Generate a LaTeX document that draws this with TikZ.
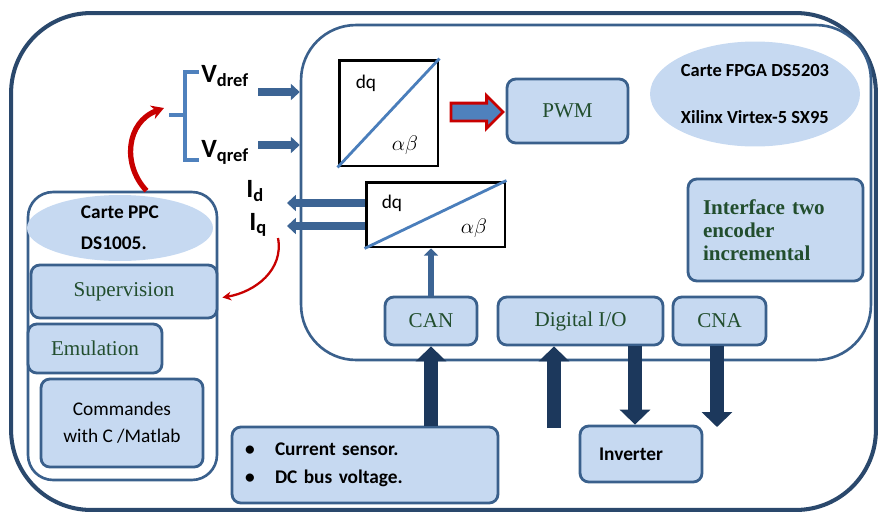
\documentclass[tikz,border=0pt]{standalone}
\usepackage{fontspec}
\setmainfont{Liberation Serif}
\setsansfont{Carlito}
\usepackage{tikz}
\usetikzlibrary{arrows.meta,shapes.geometric,shapes.arrows,positioning,calc}

\definecolor{boxfill}{RGB}{198,217,241}
\definecolor{boxline}{RGB}{58,96,140}
\definecolor{framecol}{RGB}{42,72,108}
\definecolor{navyarrow}{RGB}{28,56,92}
\definecolor{midarrow}{RGB}{60,100,148}
\definecolor{diagblue}{RGB}{74,126,187}
\definecolor{arrowblue}{RGB}{79,129,189}
\definecolor{txtgreen}{RGB}{34,78,46}
\definecolor{redline}{RGB}{200,0,0}

\begin{document}
\begin{tikzpicture}[x=0.02cm,y=-0.02cm,
	board/.style={draw=boxline,line width=1.5pt,inner sep=0pt},
	blk/.style={draw=boxline,fill=boxfill,line width=1.6pt,rounded corners=5pt,inner sep=0pt},
	tbox/.style={blk,text=txtgreen,font=\fontsize{12}{14}\selectfont},
	sbox/.style={blk,font=\sffamily\fontsize{11}{13}\selectfont},
	oval/.style={ellipse,fill=boxfill,inner sep=0pt,align=left,font=\sffamily\bfseries\fontsize{11}{13}\selectfont},
	dqbox/.style={draw=black,line width=1.7pt,inner sep=0pt},
	dqtxt/.style={font=\sffamily\fontsize{11}{13}\selectfont,inner sep=0pt},
	diag/.style={draw=diagblue,line width=1.6pt},
	lbl/.style={font=\sffamily\bfseries\fontsize{15}{18}\selectfont,inner sep=0pt},
	sigarrow/.style={draw=midarrow,line width=4pt,-{Triangle[length=5pt,width=9pt]}},
	canline/.style={draw=midarrow,line width=3pt,-{Triangle[length=4pt,width=8pt]}},
	bus/.style={draw=navyarrow,line width=8.5pt,-{Triangle[length=8.5pt,width=17pt]}},
	bracket/.style={draw=arrowblue,line width=2pt},
	redarrow/.style={draw=redline}
]
	\useasboundingbox (0,0) rectangle (878,514);

	% frames
	\node[board,draw=framecol,line width=2.3pt,rounded corners=1.6cm,minimum width=17.3cm,minimum height=9.94cm] (outer) at (443.5,261.5) {};
	\node[board,rounded corners=1.1cm,minimum width=11.4cm,minimum height=6.7cm] (fpga) at (586,192.5) {};
	\node[board,rounded corners=0.5cm,minimum width=3.78cm,minimum height=5.76cm] (ppc) at (122.5,336) {};

	% cards
	\node[oval,minimum width=3.72cm,minimum height=1.32cm] (ppcname) at (120,228) {Carte PPC\\[4.5pt]DS1005.};
	\node[oval,font=\sffamily\bfseries\fontsize{10.5}{12}\selectfont,minimum width=4.2cm,minimum height=2.1cm] (fpganame) at (755,94) {Carte FPGA DS5203\\[15pt]Xilinx Virtex-5 SX95};

	% dq / alpha beta
	\node[dqbox,minimum width=1.98cm,minimum height=2.12cm] (dq1) at (388.5,113) {};
	\draw[diag] (dq1.south west) -- (dq1.north east);
	\node[dqtxt] (dq1a) at (366,83) {dq};
	\node[dqtxt,font=\fontsize{13}{15}\selectfont] (dq1b) at (405,145) {$\alpha\beta$};
	\node[dqbox,minimum width=2.78cm,minimum height=1.3cm] (dq2) at (435.5,214.5) {};
	\draw[diag] (dq2.south west) -- (dq2.north east);
	\node[dqtxt] (dq2a) at (392,203) {dq};
	\node[dqtxt,font=\fontsize{13}{15}\selectfont] (dq2b) at (474,228) {$\alpha\beta$};

	% blocks
	\node[tbox,minimum width=2.42cm,minimum height=1.28cm] (pwm) at (567.5,111) {PWM};
	\node[tbox,font=\bfseries\fontsize{12}{13}\selectfont,align=left,text width=2.9cm,minimum width=3.5cm,minimum height=2.04cm] (enc) at (775.5,230) {Interface two\\encoder\\incremental};
	\node[tbox,minimum width=1.84cm,minimum height=0.96cm] (can) at (431,321) {CAN};
	\node[tbox,minimum width=3.3cm,minimum height=0.96cm] (dio) at (580.5,321) {Digital I/O};
	\node[tbox,minimum width=1.86cm,minimum height=0.96cm] (cna) at (719.5,321) {CNA};
	\node[tbox,minimum width=3.72cm,minimum height=1.06cm] (sup) at (124,291.5) {Supervision};
	\node[tbox,minimum width=2.68cm,minimum height=0.98cm] (emu) at (95,348.5) {Emulation};
	\node[sbox,align=center,minimum width=3.24cm,minimum height=1.76cm] (cmd) at (122,423) {Commandes\\[2.5pt]with C /Matlab};
	\node[sbox,font=\sffamily\bfseries\fontsize{11}{16}\selectfont,align=left,text width=4.8cm,minimum width=5.32cm,minimum height=1.52cm] (sensor) at (365,465) {\makebox[0.6cm][l]{\textbullet}Current sensor.\\\makebox[0.6cm][l]{\textbullet}DC bus voltage.};
	\node[sbox,font=\sffamily\bfseries\fontsize{11}{13}\selectfont,align=left,text width=1.68cm,minimum width=2.44cm,minimum height=1.12cm] (inv) at (641,454) {Inverter};

	% dq -> PWM
	\node[single arrow,draw=redline,fill=arrowblue,line width=1.6pt,inner sep=0.15cm,minimum height=1.04cm,single arrow head extend=0.15cm] (pwmarrow) at ($(dq1.east)!0.5!(pwm.west)$) {};

	% labels
	\node[lbl,anchor=base west] (vd) at (201,82) {V\textsubscript{dref}};
	\node[lbl,anchor=base west] (vq) at (201,157) {V\textsubscript{qref}};
	\node[lbl,anchor=base west] (id) at (246,197) {I\textsubscript{d}};
	\node[lbl,anchor=base west] (iq) at (249,230) {I\textsubscript{q}};
	\draw[bracket] (199,72) -- (185,72) -- (185,160) -- (199,160);
	\draw[bracket] (185,115) -- (169,115);

	% references and measures
	\coordinate (vdtail) at (258,92);
	\coordinate (vqtail) at (258,145);
	\draw[sigarrow] (vdtail) -- (vdtail -| fpga.west);
	\draw[sigarrow] (vqtail) -- (vqtail -| fpga.west);
	\coordinate (idhead) at (287,203);
	\coordinate (iqhead) at (287,226);
	\draw[sigarrow] (dq2.west |- idhead) -- (idhead);
	\draw[sigarrow] (dq2.west |- iqhead) -- (iqhead);
	\draw[canline] (can.north) -- (can.north |- dq2.south);

	% buses
	\draw[bus] (can.south |- sensor.north) -- (can.south);
	\coordinate (dioin) at (554,428);
	\draw[bus] (dioin) -- (dioin |- dio.south);
	\coordinate (invin) at ($(inv.north)+(-6,0)$);
	\draw[bus] (invin |- dio.south) -- (invin);
	\coordinate (cnaout) at (717,427);
	\draw[bus] (cnaout |- cna.south) -- (cnaout);

	% red links
	\coordinate (brtip) at (164,108);
	\draw[redarrow,line width=3pt,-{Stealth[length=7pt,width=8pt]}] ($(ppc.north)+(24,0)$) .. controls (122,165) and (126,122) .. (brtip);
	\coordinate (iqtail) at (278,238);
	\draw[redarrow,line width=1.3pt,-{Stealth[length=5pt,width=5pt]}] (iqtail) .. controls (284,270) and (255,292) .. ($(sup.east)+(4,6)$);
\end{tikzpicture}
\end{document}
